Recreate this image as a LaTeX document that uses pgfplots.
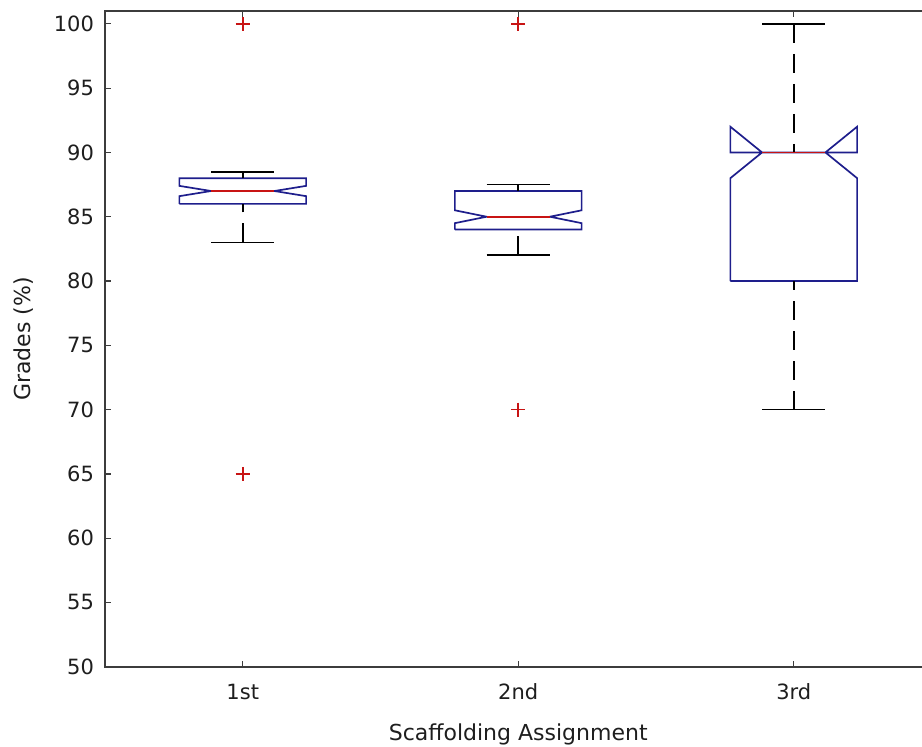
\documentclass[border=0pt]{standalone}
\usepackage{fontspec}
\setmainfont{DejaVu Sans}
\usepackage{pgfplots}
\pgfplotsset{compat=1.18}
\definecolor{boxblue}{RGB}{30,30,140}
\definecolor{medred}{RGB}{200,20,20}
\definecolor{axgray}{RGB}{60,60,60}
\definecolor{txtgray}{RGB}{30,30,30}

\begin{document}
\begin{tikzpicture}
\begin{axis}[
  scale only axis,
  width=413.25pt, height=327.9pt,
  xmin=0.5, xmax=3.5,
  ymin=50, ymax=101,
  xtick={1,2,3}, xticklabels={1st,2nd,3rd},
  ytick={50,55,...,100},
  tick align=inside,
  major tick length=3pt,
  every tick/.style={axgray, line width=0.6pt},
  axis line style={axgray, line width=0.8pt},
  /pgf/number format/assume math mode=true,
  tick label style={font=\fontsize{10.5}{12}\selectfont, txtgray},
  label style={font=\fontsize{11}{13}\selectfont, txtgray},
  xlabel={Scaffolding Assignment},
  ylabel={Grades (\%)},
  xlabel style={yshift=-5pt},
  ylabel style={yshift=3.5pt},
  xticklabel style={yshift=-5pt},
  yticklabel style={xshift=-2pt},
  clip=false,
]
\coordinate (bl) at (rel axis cs:0,0);
\coordinate (tl) at (rel axis cs:0,1);

% notched boxes
\addplot[boxblue, line width=0.85pt] coordinates {
  (0.77,86) (0.77,86.6) (0.885,87) (0.77,87.4) (0.77,88) (1.23,88)
  (1.23,87.4) (1.115,87) (1.23,86.6) (1.23,86) (0.77,86)};
\addplot[boxblue, line width=0.85pt] coordinates {
  (1.77,84) (1.77,84.5) (1.885,85) (1.77,85.5) (1.77,87) (2.23,87)
  (2.23,85.5) (2.115,85) (2.23,84.5) (2.23,84) (1.77,84)};
\addplot[boxblue, line width=0.85pt] coordinates {
  (2.77,80) (2.77,88) (2.885,90) (2.77,92) (2.77,90) (3.23,90)
  (3.23,92) (3.115,90) (3.23,88) (3.23,80) (2.77,80)};

% medians
\addplot[medred, line width=0.85pt] coordinates {(0.885,87) (1.115,87)};
\addplot[medred, line width=0.85pt] coordinates {(1.885,85) (2.115,85)};
\addplot[medred, line width=0.85pt] coordinates {(2.885,90) (3.115,90)};

% whiskers (drawn from cap towards box)
\addplot[black, line width=0.85pt, dash pattern=on 9.5pt off 5.5pt] coordinates {(1,88.5) (1,88)};
\addplot[black, line width=0.85pt, dash pattern=on 9.5pt off 5.5pt] coordinates {(1,83) (1,86)};
\addplot[black, line width=0.85pt, dash pattern=on 9.5pt off 5.5pt] coordinates {(2,87.5) (2,87)};
\addplot[black, line width=0.85pt, dash pattern=on 9.5pt off 5.5pt] coordinates {(2,82) (2,84)};
\addplot[black, line width=0.85pt, dash pattern=on 9.5pt off 5.5pt] coordinates {(3,100) (3,90)};
\addplot[black, line width=0.85pt, dash pattern=on 9.5pt off 5.5pt] coordinates {(3,70) (3,80)};

% caps
\addplot[black, line width=0.85pt] coordinates {(0.885,88.5) (1.115,88.5)};
\addplot[black, line width=0.85pt] coordinates {(0.885,83) (1.115,83)};
\addplot[black, line width=0.85pt] coordinates {(1.885,87.5) (2.115,87.5)};
\addplot[black, line width=0.85pt] coordinates {(1.885,82) (2.115,82)};
\addplot[black, line width=0.85pt] coordinates {(2.885,100) (3.115,100)};
\addplot[black, line width=0.85pt] coordinates {(2.885,70) (3.115,70)};

% outliers
\addplot[only marks, mark=+, mark size=3.5pt, medred, mark options={line width=0.8pt}]
  coordinates {(1,100) (1,65) (2,100) (2,70)};
\end{axis}
\pgfresetboundingbox
\path ([shift={(-52.5pt,-40pt)}]bl) rectangle ([shift={(408.5pt,5.5pt)}]tl);
\end{tikzpicture}
\end{document}
